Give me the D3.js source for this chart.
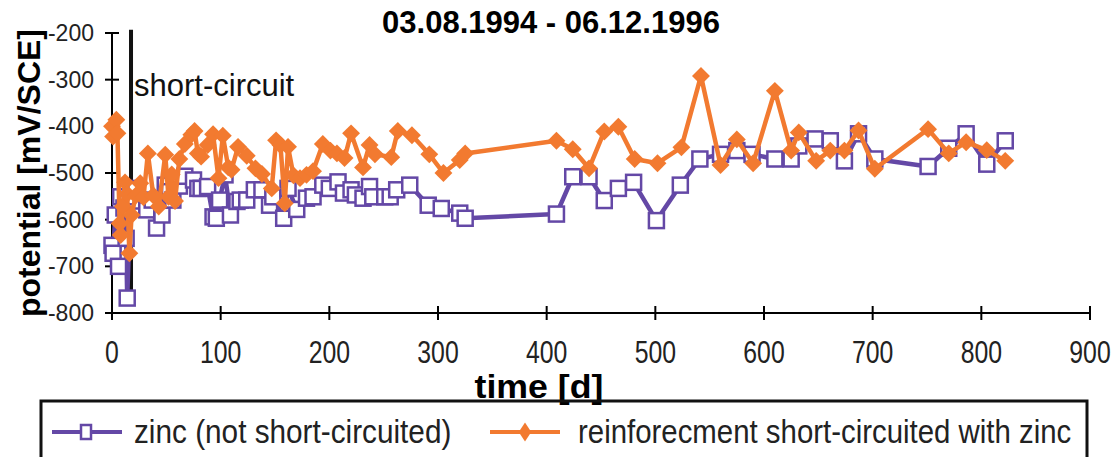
<!DOCTYPE html>
<html>
<head>
<meta charset="utf-8">
<script src="https://cdn.jsdelivr.net/npm/d3@7/dist/d3.min.js"></script>
<style>
  html, body { margin: 0; padding: 0; background: #fff; }
  svg { display: block; font-family: "Liberation Sans", Arial, sans-serif; }
</style>
</head>
<body>
<svg id="chart" width="1114" height="457"></svg>
<script>
// Potential readings, day vs mV/SCE
const zincDays = [0,1,3,6,8,11,13,14,17,20,22,27,32,37,41,46,49,53,56,62,67,75,79,82,88,93,96,99,104,109,115,118,124,131,138,145,148,158,162,170,179,185,194,200,208,213,220,224,231,237,240,251,256,262,274,291,303,320,325,409,424,439,453,466,480,501,523,541,560,575,589,610,625,632,647,661,674,687,702,751,770,786,805,822];
const zincValues = [-655,-672,-590,-700,-551,-575,-640,-768,-558,-551,-533,-560,-579,-558,-618,-590,-526,-540,-558,-528,-507,-515,-533,-533,-529,-594,-597,-558,-504,-590,-561,-558,-558,-536,-536,-569,-551,-597,-533,-578,-554,-551,-526,-533,-519,-543,-536,-547,-554,-529,-551,-551,-551,-536,-526,-569,-576,-586,-597,-588,-508,-508,-559,-533,-520,-602,-526,-470,-460,-452,-460,-470,-470,-442,-427,-431,-474,-416,-470,-486,-447,-416,-481,-431];

const rebarDays = [0,1,4,5,7,8,10,12,14,16,18,22,26,29,33,38,43,49,52,55,58,62,67,73,76,79,82,88,93,98,102,107,110,116,124,132,138,147,151,155,159,162,167,173,179,185,194,201,207,214,220,231,237,242,257,263,276,292,305,320,325,409,424,439,453,466,481,502,524,542,560,575,590,610,625,632,648,661,674,687,702,751,770,786,805,822];
const rebarValues = [-400,-422,-386,-415,-608,-633,-572,-520,-545,-672,-590,-548,-522,-552,-458,-548,-572,-461,-551,-503,-560,-470,-438,-418,-410,-458,-465,-440,-417,-511,-420,-488,-493,-444,-463,-490,-502,-533,-430,-440,-565,-444,-505,-511,-504,-496,-438,-452,-458,-468,-415,-488,-440,-460,-466,-410,-419,-460,-500,-472,-458,-431,-449,-490,-411,-401,-470,-479,-445,-292,-483,-428,-479,-324,-452,-413,-474,-452,-452,-409,-491,-406,-458,-434,-451,-474];

const xTicks = [0,100,200,300,400,500,600,700,800,900];
const yTicks = [-800,-700,-600,-500,-400,-300,-200];

const titleText = "03.08.1994 - 06.12.1996";
const xTitle = "time [d]";
const yTitle = "potential [mV/SCE]";
const seriesNames = ["zinc (not short-circuited)", "reinforecment short-circuited with zinc"];
const shortCircuitDay = 17.5;
const shortCircuitLabel = "short-circuit";

const purple = "#6448a6";
const orange = "#f27a30";

const svg = d3.select("#chart");

const x = d3.scaleLinear().domain([0, 900]).range([112, 1090]);
const y = d3.scaleLinear().domain([-800, -200]).range([313, 33]);

// axes
const axisG = svg.append("g");
axisG.append("line").attr("x1", x(0)).attr("x2", x(0)).attr("y1", y(-200)).attr("y2", y(-800))
  .attr("stroke", "#000").attr("stroke-width", 2);
axisG.append("line").attr("x1", x(0)).attr("x2", x(900)).attr("y1", y(-800)).attr("y2", y(-800))
  .attr("stroke", "#000").attr("stroke-width", 2);

axisG.selectAll(".yt").data(yTicks).join("line")
  .attr("x1", x(0) - 7).attr("x2", x(0) + 7)
  .attr("y1", d => y(d)).attr("y2", d => y(d))
  .attr("stroke", "#000").attr("stroke-width", 2);
axisG.selectAll(".xt").data(xTicks).join("line")
  .attr("x1", d => x(d)).attr("x2", d => x(d))
  .attr("y1", y(-800) - 7).attr("y2", y(-800) + 7)
  .attr("stroke", "#000").attr("stroke-width", 2);

axisG.selectAll(".yl").data(yTicks).join("text")
  .attr("x", 94).attr("y", d => y(d) + 8)
  .attr("text-anchor", "end")
  .attr("font-size", 23)
  .attr("fill", "#222")
  .text(d => d);

axisG.selectAll(".xl").data(xTicks).join("text")
  .attr("transform", d => `translate(${x(d)},363) scale(0.8,1)`)
  .attr("text-anchor", "middle")
  .attr("font-size", 31)
  .attr("fill", "#222")
  .text(d => d);

// titles
svg.append("text").attr("x", 551).attr("y", 33).attr("text-anchor", "middle")
  .attr("font-size", 31).attr("font-weight", "bold").text(titleText);
svg.append("text").attr("transform", `translate(539,398) scale(1.05,1)`).attr("text-anchor", "middle")
  .attr("font-size", 34).attr("font-weight", "bold").text(xTitle);
svg.append("text").attr("transform", `translate(40,173) rotate(-90)`).attr("text-anchor", "middle")
  .attr("font-size", 32).attr("font-weight", "bold").text(yTitle);

// short-circuit marker
svg.append("line")
  .attr("x1", x(shortCircuitDay)).attr("x2", x(shortCircuitDay))
  .attr("y1", y(-193)).attr("y2", y(-775))
  .attr("stroke", "#111").attr("stroke-width", 4);
svg.append("text").attr("x", 134).attr("y", 96)
  .attr("font-size", 31).attr("fill", "#111").text(shortCircuitLabel);

// series
const zinc = zincDays.map((d, i) => [d, zincValues[i]]);
const rebar = rebarDays.map((d, i) => [d, rebarValues[i]]);
const line = d3.line().x(d => x(d[0])).y(d => y(d[1]));

const diamond = d3.symbol().type(d3.symbolSquare).size(160);

function drawRebar(g) {
  g.append("path").datum(rebar).attr("d", line)
    .attr("fill", "none").attr("stroke", orange).attr("stroke-width", 4.5).attr("stroke-linejoin", "round");
  g.selectAll("path.m").data(rebar).join("path").attr("class", "m")
    .attr("transform", d => `translate(${x(d[0])},${y(d[1])}) rotate(45)`)
    .attr("d", diamond).attr("fill", orange);
}
function drawZinc(g) {
  g.append("path").datum(zinc).attr("d", line)
    .attr("fill", "none").attr("stroke", purple).attr("stroke-width", 4.5).attr("stroke-linejoin", "round");
  g.selectAll("rect.m").data(zinc).join("rect").attr("class", "m")
    .attr("x", d => x(d[0]) - 7.5).attr("y", d => y(d[1]) - 7.5)
    .attr("width", 15).attr("height", 15)
    .attr("fill", "#fff").attr("stroke", purple).attr("stroke-width", 2.5);
}
drawZinc(svg.append("g"));
drawRebar(svg.append("g"));

// legend
const lg = svg.append("g");
lg.append("rect").attr("x", 41).attr("y", 401).attr("width", 1046).attr("height", 80)
  .attr("fill", "none").attr("stroke", "#111").attr("stroke-width", 3);
lg.append("line").attr("x1", 52).attr("x2", 122).attr("y1", 432).attr("y2", 432)
  .attr("stroke", purple).attr("stroke-width", 4);
lg.append("rect").attr("x", 81).attr("y", 425).attr("width", 10).attr("height", 14)
  .attr("fill", "#fff").attr("stroke", purple).attr("stroke-width", 2.5);
lg.append("text").attr("transform", "translate(134,443) scale(0.875,1)")
  .attr("font-size", 34).attr("fill", "#222").text(seriesNames[0]);
lg.append("line").attr("x1", 490).attr("x2", 560).attr("y1", 432).attr("y2", 432)
  .attr("stroke", orange).attr("stroke-width", 4);
lg.append("path").attr("transform", "translate(525,432) scale(0.7,1.05) rotate(45)")
  .attr("d", diamond).attr("fill", orange);
lg.append("text").attr("transform", "translate(578,443) scale(0.865,1)")
  .attr("font-size", 34).attr("fill", "#222").text(seriesNames[1]);
</script>
</body>
</html>
